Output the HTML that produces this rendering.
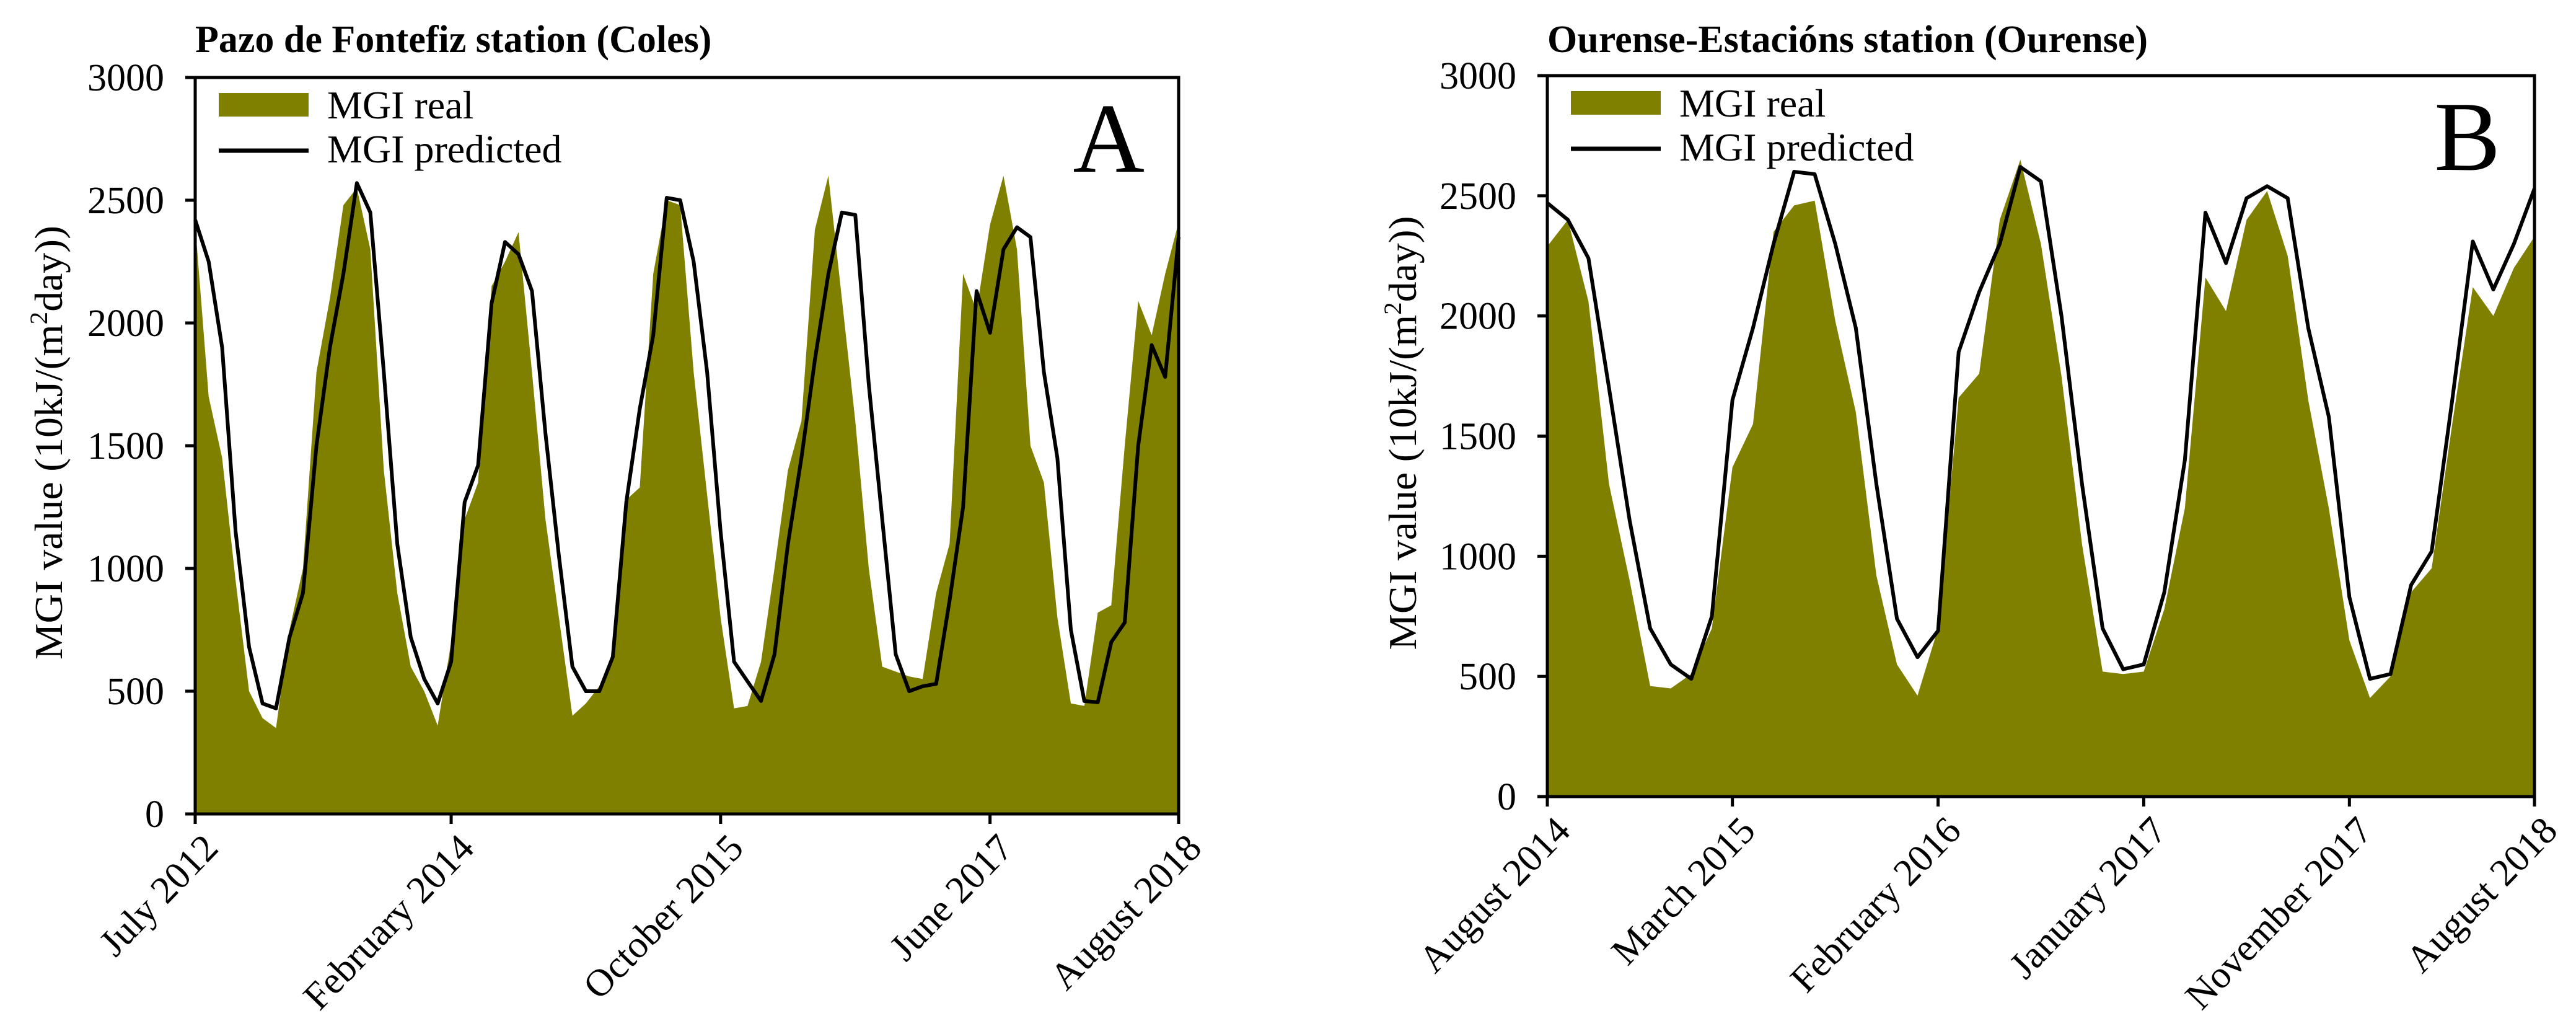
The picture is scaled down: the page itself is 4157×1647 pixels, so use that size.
<!DOCTYPE html>
<html><head><meta charset="utf-8"><style>
html,body{margin:0;padding:0;background:#fff;}
svg{display:block;font-family:"Liberation Serif",serif;}
</style></head><body>
<svg id="chart" width="4157" height="1647" viewBox="0 0 4157 1647" xmlns="http://www.w3.org/2000/svg"></svg>
<script>
// Panel A data (July 2012 - August 2018, monthly)
const realA = [2400,1700,1450,950,500,390,350,750,1000,1800,2100,2480,2550,2300,1400,900,600,500,360,700,1200,1350,2150,2250,2370,1800,1200,800,400,450,520,650,1280,1330,2200,2500,2480,1800,1300,800,430,440,620,1000,1400,1600,2380,2600,2100,1600,1000,600,580,560,550,900,1100,2200,2050,2400,2600,2300,1500,1350,800,450,440,820,850,1500,2090,1950,2200,2410];
const predA = [2420,2250,1900,1150,680,450,430,720,900,1500,1900,2200,2570,2450,1800,1100,720,550,450,620,1270,1420,2080,2330,2280,2130,1550,1050,600,500,500,640,1270,1650,1950,2510,2500,2250,1800,1150,620,540,460,650,1100,1450,1850,2200,2450,2440,1750,1200,650,500,520,530,870,1250,2130,1960,2300,2390,2350,1800,1450,750,460,455,700,780,1500,1910,1780,2350];
const tickIdxA = [0,19,39,59,73];
const tickLabA = ["July 2012","February 2014","October 2015","June 2017","August 2018"];
// Panel B data (August 2014 - August 2018)
const realB = [2290,2400,2060,1300,900,460,450,510,700,1370,1550,2350,2460,2480,1980,1600,920,550,420,700,1660,1760,2400,2650,2300,1750,1050,520,510,520,780,1200,2160,2020,2400,2520,2250,1650,1200,650,410,500,850,950,1550,2120,2000,2200,2330];
const predB = [2470,2400,2240,1700,1150,700,550,490,750,1650,1950,2300,2600,2590,2300,1950,1300,740,580,690,1850,2100,2300,2620,2560,2000,1300,700,530,550,850,1400,2430,2220,2490,2540,2490,1950,1580,830,490,510,880,1020,1650,2310,2110,2300,2530];
const tickIdxB = [0,9,19,29,39,48];
const tickLabB = ["August 2014","March 2015","February 2016","January 2017","November 2017","August 2018"];
const yTicks = [0,500,1000,1500,2000,2500,3000];

const NS="http://www.w3.org/2000/svg";
const svg=document.getElementById('chart');
function mk(tag,attrs,parent){const e=document.createElementNS(NS,tag);for(const k in attrs)e.setAttribute(k,attrs[k]);(parent||svg).appendChild(e);return e;}

function panel(p){
  const g=mk('g',{});
  
  
  const n=p.real.length;
  const xs=i=>p.x0+(p.x1-p.x0)*i/(n-1);
  const ys=v=>p.y0-(p.y0-p.y1)*v/3000;
  let d='M'+xs(0)+','+ys(0);
  p.real.forEach((v,i)=>{d+=' L'+xs(i)+','+ys(v);});
  d+=' L'+xs(n-1)+','+ys(0)+' Z';
  const area=mk('path',{d:d,fill:'#808000'},g);
  
  
  const pts=p.pred.map((v,i)=>xs(i)+','+ys(v)).join(' ');
  const line=mk('polyline',{points:pts,fill:'none',stroke:'#000','stroke-width':6,'stroke-linejoin':'round'},g);
  
  
  const fr=mk('path',{d:`M${p.x0},${p.y1} H${p.x1} V${p.y0} M${p.x0-16},${p.y0} H${p.x1} M${p.x0},${p.y1} V${p.y0}`,fill:'none',stroke:'#000','stroke-width':5},g);
  
  
  yTicks.forEach(t=>{
    const y=ys(t);
    const tk=mk('line',{x1:p.x0-16,x2:p.x0,y1:y,y2:y,stroke:'#000','stroke-width':5},g);
    
    
    const tx=mk('text',{x:p.x0-50,y:y+21,'text-anchor':'end','font-size':62},g);
    tx.textContent=t;
    
    
  });
  p.tickIdx.forEach((ti,k)=>{
    const x=xs(ti);
    const tk=mk('line',{x1:x,x2:x,y1:p.y0,y2:p.y0+16,stroke:'#000','stroke-width':5},g);
    
    
    const ax=x+40, ay=p.y0+58;
    const tx=mk('text',{x:ax,y:ay,'text-anchor':'end','font-size':62,transform:`rotate(-46 ${ax} ${ay})`},g);
    tx.textContent=p.tickLab[k];
    
    
  });
  const cy=(p.y0+p.y1)/2-5;
  const yt=mk('text',{x:p.yTitleX,y:cy,'text-anchor':'middle','font-size':64,textLength:700,lengthAdjust:'spacingAndGlyphs',transform:`rotate(-90 ${p.yTitleX} ${cy})`},g);
  yt.innerHTML='MGI value (10kJ/(m<tspan font-size="40" dy="-24">2</tspan><tspan dy="24">day))</tspan>';
  
  
  const tt=mk('text',{x:p.titleX,y:84,'font-size':62,'font-weight':'bold'},g);
  tt.textContent=p.title;
  
  
  const lg=mk('g',{},g);
  
  
  const sw=mk('rect',{x:p.x0+38,y:p.y1+25,width:145,height:38,fill:'#808000'},lg);
  
  
  const l1=mk('text',{x:p.x0+213,y:p.y1+66,'font-size':64},lg);
  l1.textContent='MGI real';
  
  
  const ll=mk('line',{x1:p.x0+38,x2:p.x0+183,y1:p.y1+118,y2:p.y1+118,stroke:'#000','stroke-width':7},lg);
  
  
  const l2=mk('text',{x:p.x0+213,y:p.y1+137,'font-size':64},lg);
  l2.textContent='MGI predicted';
  
  
  const lt=mk('text',{x:p.x1-55,y:p.y1+152,'text-anchor':'end','font-size':160},g);
  lt.textContent=p.letter;
  
  
}
panel({id:'a',x0:315,x1:1902,y0:1313,y1:125,real:realA,pred:predA,tickIdx:tickIdxA,tickLab:tickLabA,yTitleX:100,titleX:315,title:'Pazo de Fontefiz station (Coles)',letter:'A'});
panel({id:'b',x0:2497,x1:4090,y0:1285,y1:122,real:realB,pred:predB,tickIdx:tickIdxB,tickLab:tickLabB,yTitleX:2285,titleX:2497,title:'Ourense-Estacións station (Ourense)',letter:'B'});
</script>
</body></html>
